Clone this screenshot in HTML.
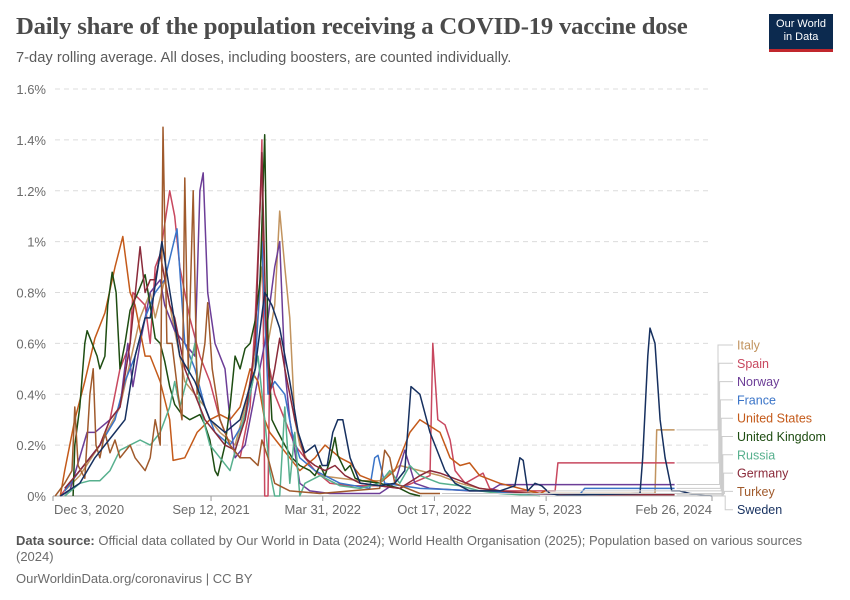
<!DOCTYPE html>
<html><head><meta charset="utf-8">
<style>
body{margin:0;background:#fff;width:850px;height:600px;overflow:hidden;font-family:"Liberation Sans",sans-serif;}
#title{position:absolute;left:16px;top:13px;font-family:"Liberation Serif",serif;font-weight:bold;font-size:24.7px;color:#4b4b4b;letter-spacing:-0.2px;}
#subtitle{position:absolute;left:16px;top:50px;font-size:14.7px;color:#5b5b5b;}
#logo{position:absolute;left:769px;top:14px;width:64px;height:38px;background:#0c2a4f;border-bottom:3px solid #c1272d;color:#fff;font-size:11px;line-height:13px;text-align:center;padding-top:4px;box-sizing:border-box;}
#source{position:absolute;left:16px;top:533px;width:790px;font-size:13px;color:#6b6b6b;line-height:16px;}
#footer{position:absolute;left:16px;top:571px;font-size:13px;color:#6b6b6b;}
svg{position:absolute;left:0;top:0;}
</style></head><body>
<div id="title">Daily share of the population receiving a COVID-19 vaccine dose</div>
<div id="subtitle">7-day rolling average. All doses, including boosters, are counted individually.</div>
<div id="logo">Our World<br>in Data</div>
<svg id="chart" width="850" height="600"></svg>
<div id="source"><b style="color:#555">Data source:</b> Official data collated by Our World in Data (2024); World Health Organisation (2025); Population based on various sources (2024)</div>
<div id="footer">OurWorldinData.org/coronavirus | CC BY</div>
<script>
const yTicks=[0,0.2,0.4,0.6,0.8,1,1.2,1.4,1.6];
const yTickLabels=["0%","0.2%","0.4%","0.6%","0.8%","1%","1.2%","1.4%","1.6%"];
const xTickDays=[0,283,483,683,883,1180];
const xTickLabels=["Dec 3, 2020","Sep 12, 2021","Mar 31, 2022","Oct 17, 2022","May 5, 2023","Feb 26, 2024"];
const seriesNames=["Italy","Spain","Norway","France","United States","United Kingdom","Russia","Germany","Turkey","Sweden"];
const seriesColors=["#c1935e","#c8485f","#6c3d97","#3a74c8","#c45a1a","#1e4d12","#57b08e","#8a2a3a","#a05a2c","#16305f"];
const italy=[[21,0.02],[48,0.08],[84,0.2],[120,0.35],[156,0.7],[174,0.8],[183,0.7],[200,0.85],[218,0.65],[236,0.45],[254,0.4],[272,0.35],[281,0.3],[299,0.25],[326,0.2],[344,0.35],[362,0.55],[374,0.9],[385,0.6],[397,0.75],[406,1.12],[415,0.9],[424,0.7],[433,0.3],[442,0.2],[460,0.12],[478,0.08],[514,0.07],[550,0.06],[585,0.06],[621,0.12],[657,0.1],[693,0.08],[729,0.05],[764,0.03],[800,0.02],[872,0.01],[1051,0.01],[1078,0.01],[1081,0.26],[1113,0.26]];
const spain=[[13,0],[30,0.05],[48,0.1],[66,0.15],[84,0.2],[102,0.3],[120,0.5],[138,0.6],[143,0.8],[165,0.75],[174,0.6],[183,0.9],[192,0.95],[209,1.2],[218,1.1],[227,0.9],[245,0.7],[263,0.55],[281,0.45],[299,0.3],[317,0.2],[335,0.15],[353,0.35],[362,0.7],[371,1.15],[374,1.4],[379,0],[385,0],[388,0.5],[397,0.4],[415,0.3],[433,0.2],[451,0.15],[469,0.1],[496,0.05],[532,0.04],[585,0.04],[621,0.03],[675,0.08],[680,0.6],[689,0.3],[702,0.28],[711,0.22],[720,0.1],[738,0.05],[770,0.09],[782,0.03],[800,0.02],[899,0.02],[904,0.13],[1113,0.13]];
const norway=[[13,0],[30,0.02],[61,0.25],[75,0.25],[102,0.3],[120,0.35],[134,0.6],[143,0.43],[156,0.6],[174,0.8],[192,0.85],[200,0.75],[218,0.65],[236,0.6],[254,0.55],[263,1.2],[269,1.27],[277,0.8],[290,0.6],[308,0.5],[317,0.3],[326,0.15],[344,0.2],[379,0.6],[397,0.9],[406,1.0],[415,0.5],[424,0.3],[442,0.05],[460,0.02],[496,0.01],[585,0.01],[612,0.05],[630,0.18],[648,0.05],[675,0.03],[746,0.02],[782,0.02],[800,0.045],[1113,0.045]];
const france=[[21,0.02],[48,0.1],[84,0.2],[111,0.3],[129,0.45],[147,0.55],[165,0.7],[183,0.8],[200,0.85],[222,1.05],[236,0.6],[254,0.5],[272,0.35],[290,0.25],[317,0.2],[344,0.3],[362,0.5],[374,1.0],[385,0.4],[397,0.45],[415,0.4],[428,0.25],[442,0.15],[469,0.1],[514,0.05],[567,0.03],[576,0.15],[582,0.16],[594,0.05],[657,0.03],[764,0.02],[836,0.01],[943,0.005],[952,0.03],[1113,0.03]];
const unitedStates=[[13,0],[21,0.1],[39,0.3],[57,0.45],[75,0.62],[93,0.72],[111,0.9],[125,1.02],[138,0.8],[147,0.75],[165,0.55],[174,0.55],[192,0.45],[209,0.3],[215,0.14],[236,0.15],[258,0.25],[281,0.3],[299,0.32],[317,0.3],[335,0.35],[353,0.5],[367,0.45],[379,0.3],[388,0.25],[406,0.2],[424,0.15],[442,0.1],[469,0.15],[487,0.2],[514,0.15],[532,0.13],[550,0.08],[585,0.05],[612,0.1],[639,0.25],[657,0.3],[693,0.25],[711,0.15],[729,0.12],[746,0.13],[764,0.08],[800,0.05],[836,0.03],[872,0.01],[881,0.02]];
const unitedKingdom=[[36,0],[39,0.2],[48,0.35],[57,0.6],[61,0.65],[70,0.6],[79,0.55],[84,0.5],[93,0.55],[98,0.75],[106,0.88],[113,0.8],[120,0.5],[129,0.6],[138,0.73],[152,0.8],[165,0.87],[174,0.75],[183,0.62],[192,0.6],[200,0.53],[209,0.43],[218,0.36],[231,0.32],[245,0.3],[263,0.32],[272,0.28],[281,0.22],[290,0.1],[295,0.08],[308,0.2],[317,0.35],[326,0.55],[335,0.5],[344,0.58],[353,0.6],[362,0.69],[371,0.85],[379,1.42],[385,0.6],[392,0.3],[403,0.25],[415,0.2],[428,0.15],[442,0.12],[460,0.1],[469,0.08],[478,0.12],[487,0.08],[496,0.14],[505,0.23],[510,0.16],[523,0.1],[532,0.12],[541,0.07],[553,0.06],[585,0.05],[621,0.03],[639,0.01],[657,0]];
const russia=[[21,0],[48,0.05],[66,0.06],[84,0.06],[102,0.1],[120,0.18],[138,0.2],[156,0.22],[174,0.2],[192,0.25],[209,0.35],[218,0.45],[227,0.35],[245,0.5],[254,0.6],[263,0.35],[281,0.2],[299,0.15],[317,0.1],[335,0.25],[353,0.4],[367,0.55],[379,0.3],[388,0.1],[397,0],[406,0],[415,0.35],[424,0.05],[433,0.25],[442,0],[451,0.05],[478,0.08],[514,0.04],[550,0.03],[585,0.05],[603,0.1],[621,0.05],[639,0.12],[657,0.08],[693,0.05],[729,0.04],[764,0.02],[800,0.01],[872,0]];
const germany=[[21,0.03],[48,0.1],[66,0.15],[84,0.2],[102,0.3],[120,0.35],[138,0.6],[156,0.98],[165,0.8],[174,0.85],[183,0.85],[192,0.95],[209,0.75],[218,0.7],[236,0.5],[254,0.4],[272,0.3],[290,0.25],[308,0.2],[326,0.18],[344,0.3],[362,0.6],[374,1.35],[381,0.7],[388,0.4],[397,0.5],[406,0.62],[415,0.5],[433,0.3],[451,0.15],[469,0.12],[487,0.1],[505,0.12],[523,0.08],[550,0.05],[585,0.04],[621,0.03],[657,0.08],[675,0.1],[693,0.09],[729,0.06],[764,0.03],[800,0.02],[854,0.01],[979,0.005],[1113,0.005]];
const turkey=[[4,0],[21,0.05],[34,0.1],[39,0.35],[45,0.12],[57,0.07],[66,0.4],[72,0.5],[77,0.2],[84,0.15],[93,0.25],[102,0.17],[111,0.22],[120,0.15],[138,0.2],[147,0.15],[165,0.1],[174,0.15],[183,0.3],[192,0.2],[197,1.45],[204,0.6],[213,0.6],[224,0.4],[231,0.3],[236,1.25],[242,0.5],[251,1.2],[258,0.4],[272,0.6],[277,0.76],[285,0.5],[299,0.3],[317,0.2],[335,0.15],[353,0.15],[367,0.12],[374,0.22],[385,0.15],[397,0.05],[424,0.02],[478,0.01],[585,0.03],[594,0.18],[603,0.15],[612,0.05],[657,0.01],[693,0.01]];
const sweden=[[13,0],[48,0.05],[75,0.15],[93,0.2],[111,0.25],[129,0.3],[147,0.55],[165,0.7],[174,0.7],[195,1.0],[213,0.75],[227,0.55],[254,0.45],[281,0.3],[308,0.25],[335,0.3],[362,0.5],[379,0.8],[392,0.75],[406,0.66],[424,0.45],[439,0.25],[451,0.17],[469,0.2],[482,0.12],[491,0.12],[501,0.25],[510,0.3],[519,0.3],[532,0.15],[550,0.05],[585,0.04],[612,0.05],[630,0.1],[641,0.43],[657,0.4],[675,0.25],[702,0.1],[720,0.05],[746,0.02],[800,0.02],[827,0.04],[836,0.15],[842,0.14],[850,0.02],[863,0.05],[875,0.04],[890,0.01],[908,0.003],[1051,0.01],[1056,0.15],[1065,0.55],[1069,0.66],[1078,0.6],[1087,0.3],[1096,0.15],[1108,0.02],[1122,0.02],[1140,0.01],[1180,0]];
const allSeries=[italy,spain,norway,france,unitedStates,unitedKingdom,russia,germany,turkey,sweden];

const NS="http://www.w3.org/2000/svg";
const svg=document.getElementById("chart");
const X0=53,X1=712,Y0=496,Y1=89,DMAX=1180,VMAX=1.6;
function xs(d){return X0+(d/DMAX)*(X1-X0);}
function ys(v){return Y0-(v/VMAX)*(Y0-Y1);}
function mk(t,a){const e=document.createElementNS(NS,t);for(const k in a)e.setAttribute(k,a[k]);svg.appendChild(e);return e;}

yTicks.forEach((v,i)=>{
  if(v>0){
    const g=mk("line",{x1:55,x2:X1,y1:ys(v),y2:ys(v),stroke:"#dcdcdc","stroke-dasharray":"5,4"});
    
    
  }
  const t=mk("text",{x:46,y:ys(v)+5,"text-anchor":"end","font-size":"13","fill":"#6b6b6b","font-family":"Liberation Sans, sans-serif"});
  t.textContent=yTickLabels[i];
  
  
});
const ax=mk("line",{x1:X0,x2:X1,y1:Y0,y2:Y0,stroke:"#999"});


xTickDays.forEach((d,i)=>{
  const x=xs(d);
  const tk=mk("line",{x1:x,x2:x,y1:Y0,y2:Y0+5,stroke:"#999"});
  
  
  let anchor="middle",tx=x;
  if(i===0){anchor="start";tx=x+1;}
  if(i===xTickDays.length-1){anchor="end";tx=x;}
  const t=mk("text",{x:tx,y:514,"text-anchor":anchor,"font-size":"13","fill":"#6b6b6b","font-family":"Liberation Sans, sans-serif"});
  t.textContent=xTickLabels[i];
  
  
});
allSeries.forEach((s,i)=>{
  const pts=s.map(p=>xs(p[0]).toFixed(1)+","+ys(p[1]).toFixed(1)).join(" ");
  const pl=mk("polyline",{points:pts,fill:"none",stroke:seriesColors[i],"stroke-width":"1.5","stroke-linejoin":"round"});
  
  
});
seriesNames.forEach((n,i)=>{
  const s=allSeries[i];const last=s[s.length-1];
  const ly=345+i*18.3;
  const ex=xs(last[0]),ey=ys(last[1]);
  const bx=718+i*0.8;
  const c=mk("polyline",{points:`${ex+2},${ey} ${bx},${ey} ${bx},${ly} 733,${ly}`,fill:"none",stroke:"#ccc","stroke-width":"1"});
  
  
  const t=mk("text",{x:737,y:ly+4.5,"font-size":"12.5","fill":seriesColors[i],"font-family":"Liberation Sans, sans-serif"});
  t.textContent=n;
  
  
});
</script>
</body></html>
